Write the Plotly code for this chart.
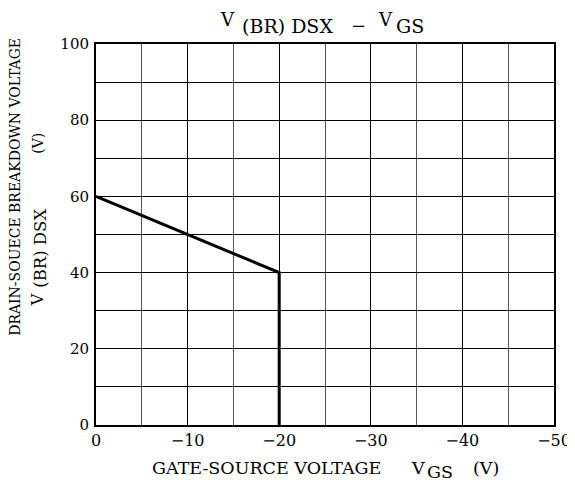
import plotly.graph_objects as go

# Data
vgs = [0, -20, -20]
vbr = [60, 40, 0]
x_ticks = [0, -10, -20, -30, -40, -50]
x_tick_labels = ["0", "−10", "−20", "−30", "−40", "−50"]
y_ticks = [0, 20, 40, 60, 80, 100]
y_tick_labels = ["0", "20", "40", "60", "80", "100"]

FONT = "DejaVu Serif"

# plot area in page pixels (body has 8px margin)
PL, PT = 96, 44.7

fig = go.Figure()
fig.add_trace(go.Scatter(x=vgs, y=vbr, mode="lines",
                         line=dict(color="black", width=3), showlegend=False,
                         hoverinfo="skip"))

fig.update_layout(
    width=575, height=492,
    margin=dict(l=88, r=25, t=36, b=75),
    paper_bgcolor="white", plot_bgcolor="white",
    font=dict(family=FONT, color="black", size=14),
    showlegend=False,
)
fig.update_xaxes(
    range=[0, -50], tickvals=x_ticks, ticktext=x_tick_labels,
    showgrid=True, gridcolor="black", gridwidth=1,
    minor=dict(dtick=5, showgrid=True, gridcolor="#555555", gridwidth=1),
    showline=True, linecolor="black", linewidth=2, mirror=True,
    zeroline=False, ticks="", tickfont=dict(family=FONT, size=16),
)
fig.update_yaxes(
    range=[0, 100], tickvals=y_ticks, ticktext=y_tick_labels,
    showgrid=True, gridcolor="black", gridwidth=1,
    minor=dict(dtick=10, showgrid=True, gridcolor="black", gridwidth=1),
    showline=True, linecolor="black", linewidth=2, mirror=True,
    zeroline=False, ticks="", ticklabelstandoff=2, tickfont=dict(family=FONT, size=15),
)


def txt(s, px, py, size, xanchor="left", angle=0):
    fig.add_annotation(
        x=0, y=1, xref="paper", yref="paper", xanchor=xanchor, yanchor="middle",
        xshift=px - PL, yshift=PT - py, showarrow=False, textangle=angle,
        text=s, font=dict(family=FONT, size=size), borderpad=0,
    )


# Title
txt("V", 219, 20.5, 18)
txt("(BR) DSX", 241, 26.5, 19)
txt("−", 350, 26.5, 18)
txt("V", 377, 20.5, 18)
txt("GS", 395, 26.5, 19)

# X axis title
txt("GATE-SOURCE VOLTAGE", 151, 468.5, 17.5)
txt("V", 410, 468.5, 17.5)
txt("GS", 426, 473, 17.5)
txt("(V)", 472, 468.5, 17.5)

# Y axis title
txt("DRAIN-SOUECE BREAKDOWN VOLTAGE", 15, 187.5, 14, xanchor="center", angle=-90)
txt("V", 37, 301, 16, xanchor="center", angle=-90)
txt("(BR) DSX", 41, 249.5, 16.5, xanchor="center", angle=-90)
txt("(V)", 38, 144.5, 14, xanchor="center", angle=-90)

fig.write_html("out.html")
